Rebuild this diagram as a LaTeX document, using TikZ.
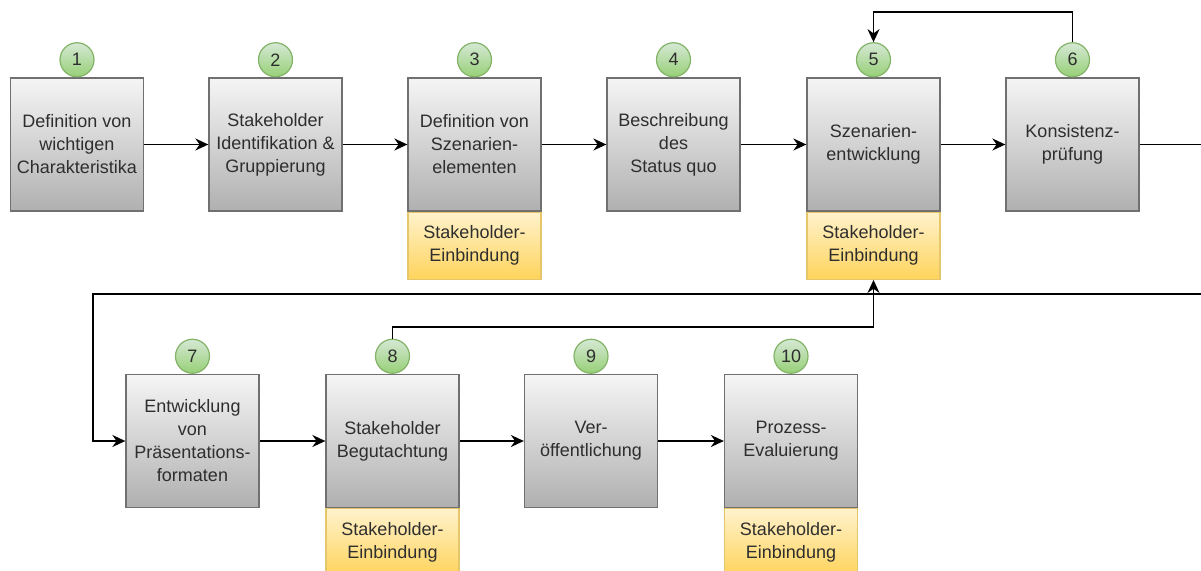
\documentclass[tikz,border=0pt]{standalone}
\usepackage{fontspec}
\setmainfont{Liberation Sans}
\usepackage{xcolor}
\usetikzlibrary{arrows.meta}

\definecolor{txtgray}{HTML}{2E2E2E}
\definecolor{boxline}{HTML}{707070}
\definecolor{graytop}{HTML}{F5F5F5}
\definecolor{graybot}{HTML}{B0B0B0}
\definecolor{ylwline}{HTML}{E6C66A}
\definecolor{ylwtop}{HTML}{FFF2CC}
\definecolor{ylwbot}{HTML}{FFD45C}
\definecolor{grnline}{HTML}{82B366}
\definecolor{grntop}{HTML}{D5E8D4}
\definecolor{grnbot}{HTML}{97D077}

\begin{document}
\begin{tikzpicture}[x=1pt,y=-1pt,
    every node/.style={text=txtgray, font=\fontsize{18}{23}\selectfont},
    stepbox/.style={draw=boxline, line width=1.3pt, top color=graytop, bottom color=graybot,
        minimum width=133pt, minimum height=133pt, align=center, inner sep=0pt},
    partbox/.style={draw=ylwline, line width=1.3pt, top color=ylwtop, bottom color=ylwbot,
        minimum width=133pt, minimum height=67pt, align=center, inner sep=0pt, anchor=north},
    numdot/.style={circle, draw=grnline, line width=1.2pt, top color=grntop, bottom color=grnbot,
        minimum size=34pt, inner sep=0pt, anchor=south},
    flow/.style={line width=1.7pt, -{Stealth[length=13pt,width=12pt]}}]
    \useasboundingbox (0,0) rectangle (1201,570);

    % top row
    \node[stepbox] (b1) at (77,144.5) {Definition von\\wichtigen\\Charakteristika};
    \node[stepbox] (b2) at (275.5,144.5) {Stakeholder\\Identifikation \&\\Gruppierung};
    \node[stepbox] (b3) at (474.5,144.5) {Definition von\\Szenarien-\\elementen};
    \node[stepbox] (b4) at (673.5,144.5) {Beschreibung\\des\\Status quo};
    \node[stepbox] (b5) at (873.5,144.5) {Szenarien-\\entwicklung};
    \node[stepbox] (b6) at (1072.5,144.5) {Konsistenz-\\prüfung};

    % bottom row
    \node[stepbox] (b7) at (192.5,441) {Entwicklung\\von\\Präsentations-\\formaten};
    \node[stepbox] (b8) at (392.5,441) {Stakeholder\\Begutachtung};
    \node[stepbox] (b9) at (591,441) {Ver-\\öffentlichung};
    \node[stepbox] (b10) at (791,441) {Prozess-\\Evaluierung};

    \node[partbox] (y3) at (b3.south) {Stakeholder-\\Einbindung};
    \node[partbox] (y5) at (b5.south) {Stakeholder-\\Einbindung};
    \node[partbox] (y8) at (b8.south) {Stakeholder-\\Einbindung};
    \node[partbox] (y10) at (b10.south) {Stakeholder-\\Einbindung};

    \node[numdot] (n1) at (b1.north) {1};
    \node[numdot] (n2) at (b2.north) {2};
    \node[numdot] (n3) at (b3.north) {3};
    \node[numdot] (n4) at (b4.north) {4};
    \node[numdot] (n5) at (b5.north) {5};
    \node[numdot] (n6) at (b6.north) {6};
    \node[numdot] (n7) at (b7.north) {7};
    \node[numdot] (n8) at (b8.north) {8};
    \node[numdot] (n9) at (b9.north) {9};
    \node[numdot] (n10) at (b10.north) {10};

    \draw[flow] (b1) -- (b2);
    \draw[flow] (b2) -- (b3);
    \draw[flow] (b3) -- (b4);
    \draw[flow] (b4) -- (b5);
    \draw[flow] (b5) -- (b6);
    \draw[flow] (b7) -- (b8);
    \draw[flow] (b8) -- (b9);
    \draw[flow] (b9) -- (b10);

    % loops back
    \coordinate (back) at (873.5,12);
    \draw[flow] (n6.north) |- (back) -- (n5.north);

    \coordinate (wrapR) at (1215,294);
    \coordinate (wrapL) at (93,294);
    \draw[flow] (b6.east) -| (wrapR) -- (wrapL) |- (b7.west);

    \coordinate (review) at (873.5,327);
    \draw[flow] (n8.north) |- (review) -- (y5.south);
\end{tikzpicture}
\end{document}
